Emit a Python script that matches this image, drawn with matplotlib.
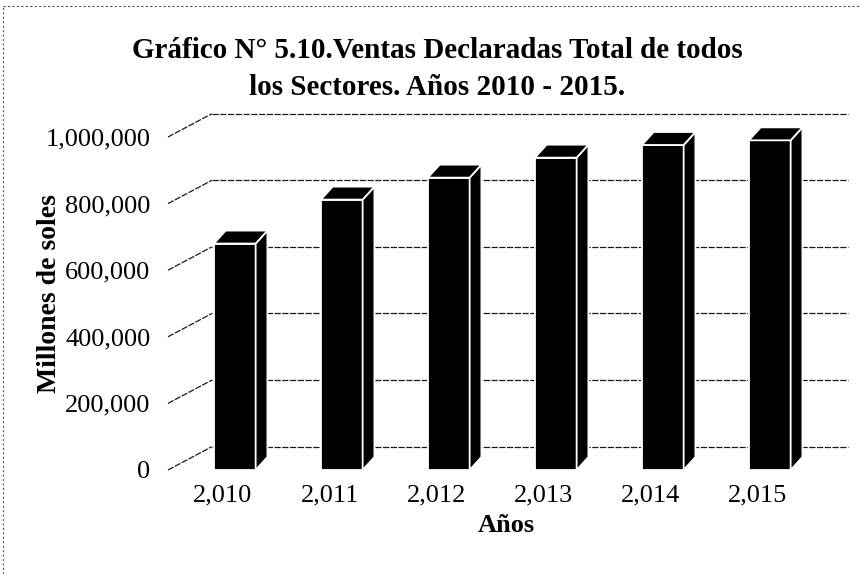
import matplotlib
matplotlib.use("Agg")
import matplotlib.pyplot as plt
from matplotlib.patches import Polygon
from matplotlib.lines import Line2D

years = ["2,010", "2,011", "2,012", "2,013", "2,014", "2,015"]
ventas = [680000, 812000, 878000, 938000, 976000, 990000]
y_ticks = [0, 200000, 400000, 600000, 800000, 1000000]
y_tick_labels = ["0", "200,000", "400,000", "600,000", "800,000", "1,000,000"]

title = "Gráfico N° 5.10.Ventas Declaradas Total de todos\nlos Sectores. Años 2010 - 2015."
x_title = "Años"
y_title = "Millones de soles"

plt.rcParams['font.family'] = ['Liberation Serif', 'DejaVu Serif']

W, H = 862, 574
fig = plt.figure(figsize=(W / 100, H / 100), dpi=100)

# axes placement: one category ~107 px, 1M ~333 px
x0_px, cat_px = 223, 107
y0_px, m_px = 470, 333
xlim = (-0.6, 5.9)
ylim = (-40000, 1100000)
left = (x0_px + xlim[0] * cat_px) / W
width = (xlim[1] - xlim[0]) * cat_px / W
bottom = (H - (y0_px - ylim[0] / 1e6 * m_px)) / H
height = (ylim[1] - ylim[0]) / 1e6 * m_px / H
ax = fig.add_axes([left, bottom, width, height])
ax.set_xlim(xlim)
ax.set_ylim(ylim)
for s in ax.spines.values():
    s.set_visible(False)

# fake 3d: back wall offset and bar depth
wall_x0, wall_dx, wall_dy = -0.514, 0.41, 70000
bar_w, bar_shift, bdx, bdy = 0.39, 0.11, 0.11, 39000

grid_kw = dict(color='#1a1a1a', lw=0.9, ls=(0, (5, 1.2)), zorder=1)
for t in y_ticks:
    ax.plot([wall_x0, wall_x0 + wall_dx], [t, t + wall_dy], **grid_kw)
    ax.plot([wall_x0 + wall_dx, 5.84], [t + wall_dy, t + wall_dy], **grid_kw)

xs = [i + bar_shift for i in range(len(years))]
ax.bar(xs, ventas, width=bar_w, color='black', edgecolor='white', lw=1.3, zorder=3)
for x, v in zip(xs, ventas):
    l, r = x - bar_w / 2, x + bar_w / 2
    side = Polygon([(r, 0), (r + bdx, bdy), (r + bdx, v + bdy), (r, v)],
                   closed=True, fc='black', ec='white', lw=1.3, zorder=3)
    top = Polygon([(l, v), (r, v), (r + bdx, v + bdy), (l + bdx, v + bdy)],
                  closed=True, fc='black', ec='white', lw=1.3, zorder=3)
    ax.add_patch(side)
    ax.add_patch(top)

ax.set_xticks(range(len(years)))
ax.set_xticklabels(years, fontsize=19)
ax.set_yticks(y_ticks)
ax.set_yticklabels(y_tick_labels, fontsize=19)
ax.tick_params(length=0)
ax.tick_params(axis='y', pad=6)
ax.tick_params(axis='x', pad=1)
ax.set_xlabel(x_title, fontsize=19, fontweight='bold', labelpad=5)
ax.set_ylabel(y_title, fontsize=20, fontweight='bold', labelpad=-12)

fig.text(0.507, 0.935, title, ha='center', va='top', fontsize=21,
         fontweight='bold', linespacing=1.45)

# scanned frame border
fig.add_artist(Line2D([0.004, 0.004], [0.0, 0.99], transform=fig.transFigure,
                      color='#555555', lw=0.8, ls=(0, (2, 2))))
fig.add_artist(Line2D([0.004, 1.0], [0.99, 0.99], transform=fig.transFigure,
                      color='#555555', lw=0.8, ls=(0, (2, 2))))

fig.savefig("out.png", dpi=100)
